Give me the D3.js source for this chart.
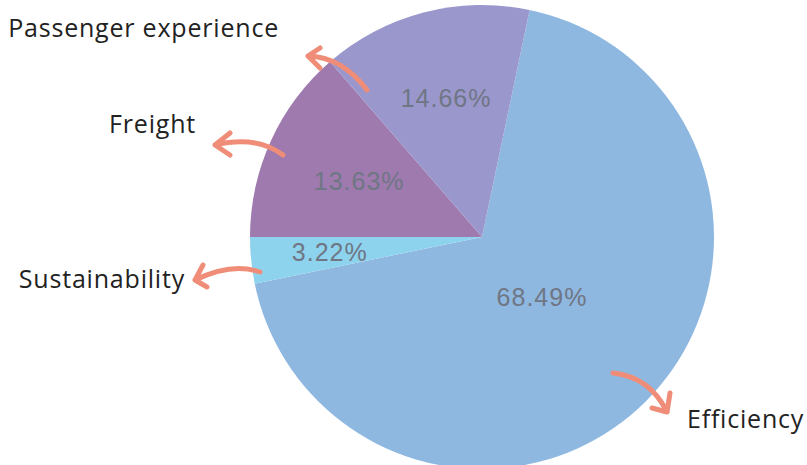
<!DOCTYPE html>
<html>
<head>
<meta charset="utf-8">
<script src="https://cdn.jsdelivr.net/npm/d3@7"></script>
<style>
  body { margin: 0; background: #fff; }
</style>
</head>
<body>
<div id="container"></div>
<script>
let w = 807;
let h = 465;

// DATA (clockwise from the top, as drawn)
let categories = ["Efficiency", "Sustainability", "Freight", "Passenger experience"];
let shares = [68.49, 3.22, 13.63, 14.66];

// styling
let colors = ["#8fb8e1", "#8ed3ee", "#9e7aae", "#9a97cc"];
let labelRadius = [85, 153, 135, 143];
let cx = 482, cy = 237, radius = 232;
let startAngle = 11.84 * Math.PI / 180;

// annotation arrows + category labels, offsets from pie centre
let notes = [
  { tail: [131, 136], ctrl: [168, 140], tip: [185, 175], arms: [[188, 156], [170, 171]], label: [205, 191], anchor: "start" },
  { tail: [-222, 35], ctrl: [-250, 25], tip: [-287, 43], arms: [[-279, 28], [-275, 50]], label: [-297, 51], anchor: "end" },
  { tail: [-199, -82], ctrl: [-226, -102], tip: [-267, -92], arms: [[-252, -104], [-252, -82]], label: [-286, -104], anchor: "end" },
  { tail: [-115, -147], ctrl: [-140, -180], tip: [-174, -181], arms: [[-162, -189], [-162, -169]], label: [-203, -200], anchor: "end" }
];

let viz = d3.select("#container").append("svg")
  .attr("width", w)
  .attr("height", h)
  .style("background-color", "white");

let pieData = d3.pie()
  .sort(null)
  .startAngle(startAngle)
  .endAngle(startAngle + 2 * Math.PI)(shares);

let arcMaker = d3.arc().innerRadius(0).outerRadius(radius);

let g = viz.append("g").attr("transform", "translate(" + cx + "," + cy + ")");

g.selectAll(".slice").data(pieData).enter()
  .append("path")
  .attr("class", "slice")
  .attr("d", arcMaker)
  .attr("fill", (d, i) => colors[i]);

g.selectAll(".pct").data(pieData).enter()
  .append("text")
  .attr("class", "pct")
  .attr("transform", (d, i) => {
    let c = d3.arc().innerRadius(labelRadius[i]).outerRadius(labelRadius[i]).centroid(d);
    return "translate(" + c[0] + "," + c[1] + ")";
  })
  .attr("text-anchor", "middle")
  .attr("dy", "0.35em")
  .attr("font-family", "'Liberation Sans', Arial, sans-serif")
  .attr("font-size", 25)
  .attr("letter-spacing", 1)
  .attr("fill", "#6f7684")
  .text(d => d.data.toFixed(2) + "%");

// arrows
notes.forEach((n, i) => {
  let p = d3.path();
  p.moveTo(n.tail[0], n.tail[1]);
  p.quadraticCurveTo(n.ctrl[0], n.ctrl[1], n.tip[0], n.tip[1]);
  p.moveTo(n.arms[0][0], n.arms[0][1]);
  p.lineTo(n.tip[0], n.tip[1]);
  p.lineTo(n.arms[1][0], n.arms[1][1]);
  g.append("path")
    .attr("d", p.toString())
    .attr("fill", "none")
    .attr("stroke", "#f08d78")
    .attr("stroke-width", 5)
    .attr("stroke-linecap", "round")
    .attr("stroke-linejoin", "round");

  g.append("text")
    .attr("x", n.label[0])
    .attr("y", n.label[1])
    .attr("text-anchor", n.anchor)
    .attr("font-family", "'Open Sans', sans-serif")
    .attr("font-size", 25)
    .attr("letter-spacing", 0.8)
    .attr("fill", "#222")
    .text(categories[i]);
});
</script>
</body>
</html>
